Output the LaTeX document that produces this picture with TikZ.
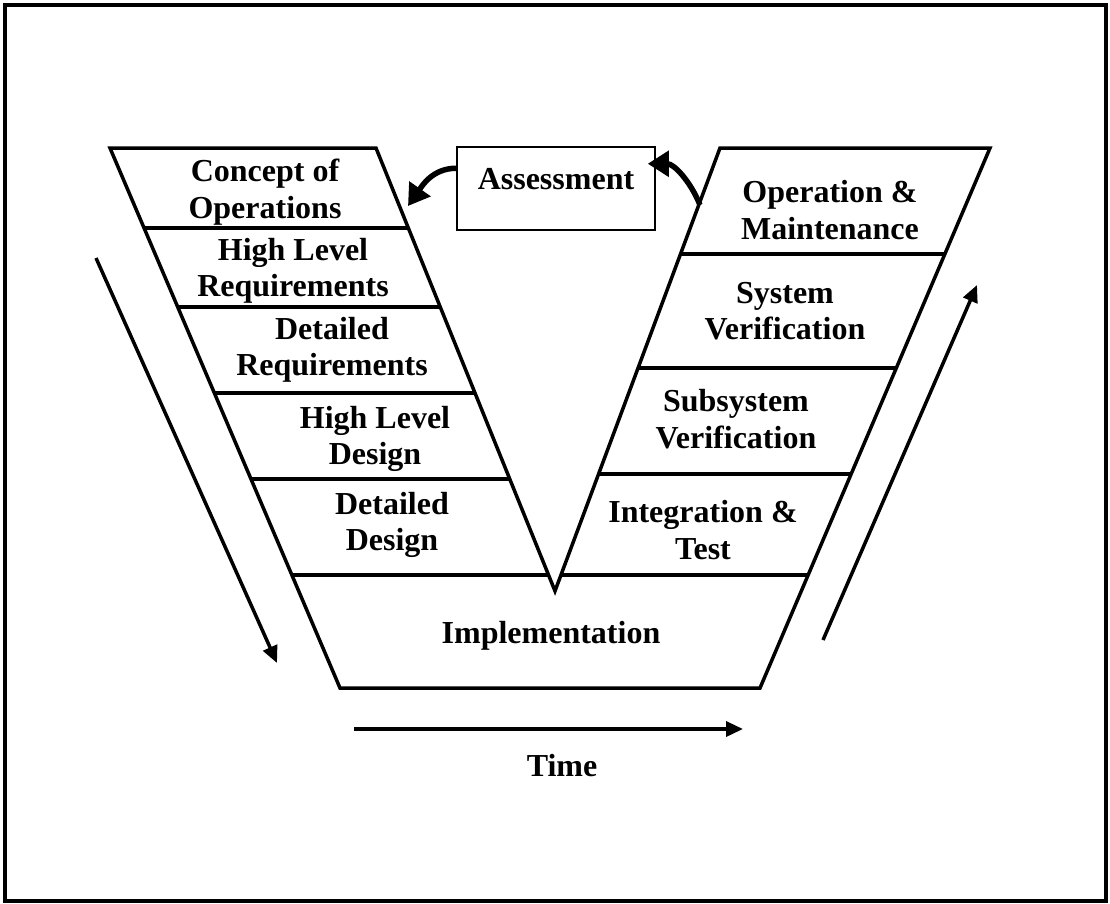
\documentclass[tikz,border=0pt]{standalone}
\usepackage{fontspec}
\setmainfont{Liberation Serif}
\usetikzlibrary{arrows.meta}
\begin{document}
\begin{tikzpicture}[x=1pt,y=-1pt,
  lbl/.style={font=\bfseries\fontsize{32}{36.5}\selectfont, align=center, inner sep=0pt},
  arm/.style={line width=3.5pt},
  flow/.style={line width=3.5pt, -{Triangle[length=17pt,width=15pt]}},
  loopback/.style={line width=5.5pt, -{Triangle[length=21pt,width=25pt]}}]
\useasboundingbox (0,0) rectangle (1110,903);
\draw[line width=4pt] (4.5,5) rectangle (1106,901);

% V outline
\coordinate (LT) at (110,148);
\coordinate (LI) at (376,148);
\coordinate (V)  at (555,591);
\coordinate (RI) at (720,148);
\coordinate (RT) at (990,148);
\coordinate (RB) at (760,688);
\coordinate (LB) at (340,688);
\draw[arm] (LI) -- (LT) -- (LB) -- (RB) -- (RT) -- (RI) -- (V) -- cycle;

% left dividers
\draw[arm] (144.1,228) -- (408.3,228);
\draw[arm] (177.7,307) -- (440.2,307);
\draw[arm] (214.4,393) -- (475.0,393);
\draw[arm] (251.0,479) -- (509.7,479);
\draw[arm] (291.9,575) -- (548.5,575);
% right dividers
\draw[arm] (680.5,254) -- (944.9,254);
\draw[arm] (638.1,368) -- (896.3,368);
\draw[arm] (598.6,474) -- (851.1,474);
\draw[arm] (561.0,575) -- (808.1,575);

% labels
\node[lbl] (conops) at (265,192) {Concept of\\Operations};
\node[lbl] (hlr) at (293,271) {High Level\\Requirements};
\node[lbl] (dr) at (332,350) {Detailed\\Requirements};
\node[lbl] (hld) at (375,439) {High Level\\Design};
\node[lbl] (dd) at (392,525) {Detailed\\Design};
\node[lbl] (impl) at (551,636) {Implementation};
\node[lbl] (om) at (830,210) {Operation \&\\Maintenance};
\node[lbl] (sv) at (785,311) {System\\Verification};
\node[lbl] (ssv) at (736,419) {Subsystem\\Verification};
\node[lbl] (it) at (703,530) {Integration \&\\Test};
\node[lbl] (time) at (562,766) {Time};

% assessment box
\node[lbl, draw, line width=1.5pt, anchor=north, minimum width=198pt,
      text height=43pt, text depth=40pt] (asmt) at (556,146) {Assessment};

% curved arrows
\coordinate (lt) at (408,206);
\coordinate (ra) at (700,205);
\draw[loopback] ([yshift=20pt]asmt.west) to[out=180, in=55] (lt);
\draw[loopback] (ra) to[out=112, in=0] ([xshift=-8pt,yshift=24.5pt]asmt.east);

% time / direction arrows
\coordinate (dA) at (96,258);
\coordinate (dB) at (277,663);
\draw[flow] (dA) -- (dB);
\coordinate (uA) at (823,640);
\coordinate (uB) at (977,285);
\draw[flow] (uA) -- (uB);
\coordinate (tA) at (354,729);
\coordinate (tB) at (743,729);
\draw[flow] (tA) -- (tB);
\end{tikzpicture}
\end{document}
